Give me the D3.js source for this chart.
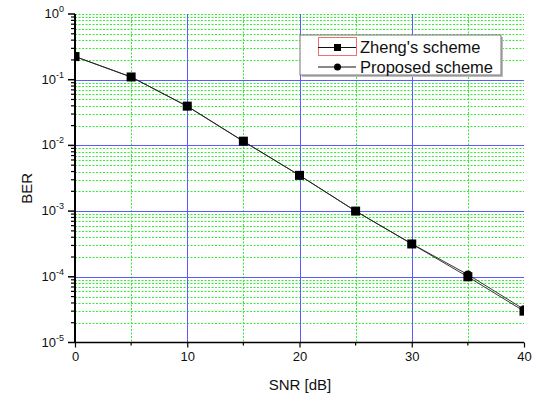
<!DOCTYPE html>
<html>
<head>
<meta charset="utf-8">
<script src="https://cdn.jsdelivr.net/npm/d3@7"></script>
<style>
  body { margin: 0; background: #fff; }
  svg { display: block; font-family: 'Liberation Sans', Arial, sans-serif; }
</style>
</head>
<body>
<svg id="chart"></svg>
<script>
// data
var snr = [0, 5, 10, 15, 20, 25, 30, 35, 40];
var zhengBer    = [0.225, 0.110, 0.0396, 0.0116, 0.0035, 0.00100, 0.000316, 0.000100, 0.0000300];
var proposedBer = [0.225, 0.110, 0.0393, 0.0115, 0.0035, 0.00100, 0.000318, 0.000108, 0.0000320];
var xTicks = [0, 10, 20, 30, 40];
var xMinor = [5, 15, 25, 35];
var yDecades = [-5, -4, -3, -2, -1, 0];
var legendNames = ["Zheng's scheme", 'Proposed scheme'];

// chart margin
var W = 537, H = 394;
var margin = { top: 14, right: 13, bottom: 51.5, left: 75 },
    width  = 524 - margin.left,
    height = 342.5 - margin.top;

var x = d3.scaleLinear().domain([0, 40]).range([0, width]);
var y = d3.scaleLog().domain([1e-5, 1]).range([height, 0]);

var blue = '#5a5aff', green = '#33ee33';

var svg = d3.select('#chart')
    .attr('width', W)
    .attr('height', H)
    .append('g')
    .attr('transform', 'translate(' + margin.left + ',' + margin.top + ')');

// minor values for log grid
var minorY = [];
yDecades.forEach(function(e) {
    if (e === 0) return;
    for (var k = 2; k <= 9; k++) minorY.push(k * Math.pow(10, e));
});

// green dotted grid
svg.append('g').selectAll('line.hm')
    .data(minorY.concat([1]))
    .enter().append('line')
    .attr('x1', 0).attr('x2', width)
    .attr('y1', function(d) { return Math.round(y(d)) + 0.5; })
    .attr('y2', function(d) { return Math.round(y(d)) + 0.5; })
    .attr('stroke', green).attr('stroke-width', 1)
    .attr('stroke-dasharray', '2,1.5');

svg.append('g').selectAll('line.vm')
    .data(xMinor)
    .enter().append('line')
    .attr('x1', function(d) { return Math.round(x(d)) + 0.5; })
    .attr('x2', function(d) { return Math.round(x(d)) + 0.5; })
    .attr('y1', 0).attr('y2', height)
    .attr('stroke', green).attr('stroke-width', 1)
    .attr('stroke-dasharray', '2,1.5');

// blue major grid
svg.append('g').selectAll('line')
    .data([1e-4, 1e-3, 1e-2, 1e-1])
    .enter().append('line')
    .attr('x1', 0).attr('x2', width)
    .attr('y1', function(d) { return Math.round(y(d)) + 0.5; })
    .attr('y2', function(d) { return Math.round(y(d)) + 0.5; })
    .attr('stroke', blue).attr('stroke-width', 1);

svg.append('g').selectAll('line')
    .data([10, 20, 30])
    .enter().append('line')
    .attr('x1', function(d) { return Math.round(x(d)) + 0.5; })
    .attr('x2', function(d) { return Math.round(x(d)) + 0.5; })
    .attr('y1', 0).attr('y2', height)
    .attr('stroke', blue).attr('stroke-width', 1);

// clip
svg.append('clipPath').attr('id', 'clip')
    .append('rect').attr('width', width).attr('height', height);

var plot = svg.append('g').attr('clip-path', 'url(#clip)');

var line = d3.line()
    .x(function(d, i) { return x(snr[i]); })
    .y(function(d) { return y(d); });

plot.append('path').datum(proposedBer)
    .attr('d', line).attr('fill', 'none')
    .attr('stroke', '#222').attr('stroke-width', 0.9);
plot.append('path').datum(zhengBer)
    .attr('d', line).attr('fill', 'none')
    .attr('stroke', '#222').attr('stroke-width', 0.9);

plot.selectAll('circle')
    .data(proposedBer)
    .enter().append('circle')
    .attr('cx', function(d, i) { return x(snr[i]); })
    .attr('cy', function(d) { return y(d); })
    .attr('r', 4).attr('fill', '#000');

plot.selectAll('rect.sq')
    .data(zhengBer)
    .enter().append('rect')
    .attr('class', 'sq')
    .attr('x', function(d, i) { return x(snr[i]) - 4.5; })
    .attr('y', function(d) { return y(d) - 4.5; })
    .attr('width', 9).attr('height', 9)
    .attr('fill', '#000');

// X axis
var xAxis = d3.axisBottom(x).tickValues(xTicks).tickSize(5).tickFormat(d3.format('d'));
var gx = svg.append('g')
    .attr('transform', 'translate(0,' + height + ')')
    .call(xAxis);
gx.select('.domain').attr('stroke', '#000').attr('stroke-width', 1.5).attr('d', 'M0,0H' + width);
gx.selectAll('.tick line').attr('stroke-width', 1.2);
gx.selectAll('.tick text').attr('y', 9).style('font-size', '13px').attr('fill', '#111');

gx.selectAll('line.minor')
    .data(xMinor)
    .enter().append('line')
    .attr('x1', function(d) { return x(d); })
    .attr('x2', function(d) { return x(d); })
    .attr('y1', 0).attr('y2', 3)
    .attr('stroke', '#000').attr('stroke-width', 1.2);

// Y axis
var gy = svg.append('g');
gy.append('line')
    .attr('x1', 0).attr('x2', 0).attr('y1', 0).attr('y2', height)
    .attr('stroke', '#000').attr('stroke-width', 2);

gy.selectAll('line.major')
    .data(yDecades)
    .enter().append('line')
    .attr('x1', -7).attr('x2', 0)
    .attr('y1', function(d) { return y(Math.pow(10, d)); })
    .attr('y2', function(d) { return y(Math.pow(10, d)); })
    .attr('stroke', '#000').attr('stroke-width', 1.5);

gy.selectAll('line.minor')
    .data(minorY)
    .enter().append('line')
    .attr('x1', -4).attr('x2', 0)
    .attr('y1', function(d) { return y(d); })
    .attr('y2', function(d) { return y(d); })
    .attr('stroke', '#000').attr('stroke-width', 1.2);

var yLab = gy.selectAll('text')
    .data(yDecades)
    .enter().append('text')
    .attr('x', -11)
    .attr('y', function(d) { return y(Math.pow(10, d)) + 4; })
    .attr('text-anchor', 'end')
    .style('font-size', '13px')
    .attr('fill', '#111');
yLab.append('tspan').text('10');
yLab.append('tspan')
    .attr('dy', -6)
    .style('font-size', '9px')
    .text(function(d) { return String(d); });

// axis titles
svg.append('text')
    .attr('x', width / 2 + 0.5)
    .attr('y', height + 47)
    .attr('text-anchor', 'middle')
    .style('font-size', '15px')
    .attr('fill', '#111')
    .text('SNR [dB]');

svg.append('text')
    .attr('transform', 'translate(' + (-43) + ',' + (height / 2 + 10) + ') rotate(-90)')
    .attr('text-anchor', 'middle')
    .style('font-size', '15px')
    .attr('fill', '#111')
    .text('BER');

// legend
var lg = svg.append('g').attr('transform', 'translate(' + (300 - margin.left) + ',' + (35 - margin.top) + ')');
lg.append('rect')
    .attr('x', 2).attr('y', 2).attr('width', 201).attr('height', 40)
    .attr('fill', '#bbb');
lg.append('rect')
    .attr('width', 201).attr('height', 40)
    .attr('fill', '#fff').attr('stroke', '#777').attr('stroke-width', 1);
lg.append('rect')
    .attr('x', 18.5).attr('y', 2.5).attr('width', 38).attr('height', 18)
    .attr('fill', 'none').attr('stroke', '#f07070').attr('stroke-width', 1);

var items = lg.selectAll('g.item')
    .data(legendNames)
    .enter().append('g')
    .attr('transform', function(d, i) { return 'translate(0,' + (12.5 + i * 19.5) + ')'; });
items.append('line')
    .attr('x1', 18).attr('x2', 56)
    .attr('stroke', '#111').attr('stroke-width', 1);
items.filter(function(d, i) { return i === 0; }).append('rect')
    .attr('x', 34).attr('y', -3.5).attr('width', 7).attr('height', 7).attr('fill', '#000');
items.filter(function(d, i) { return i === 1; }).append('circle')
    .attr('cx', 37.5).attr('r', 3.5).attr('fill', '#000');
items.append('text')
    .attr('x', 60).attr('y', 5.5)
    .style('font-size', '16.5px')
    .attr('fill', '#111')
    .text(function(d) { return d; });
</script>
</body>
</html>
